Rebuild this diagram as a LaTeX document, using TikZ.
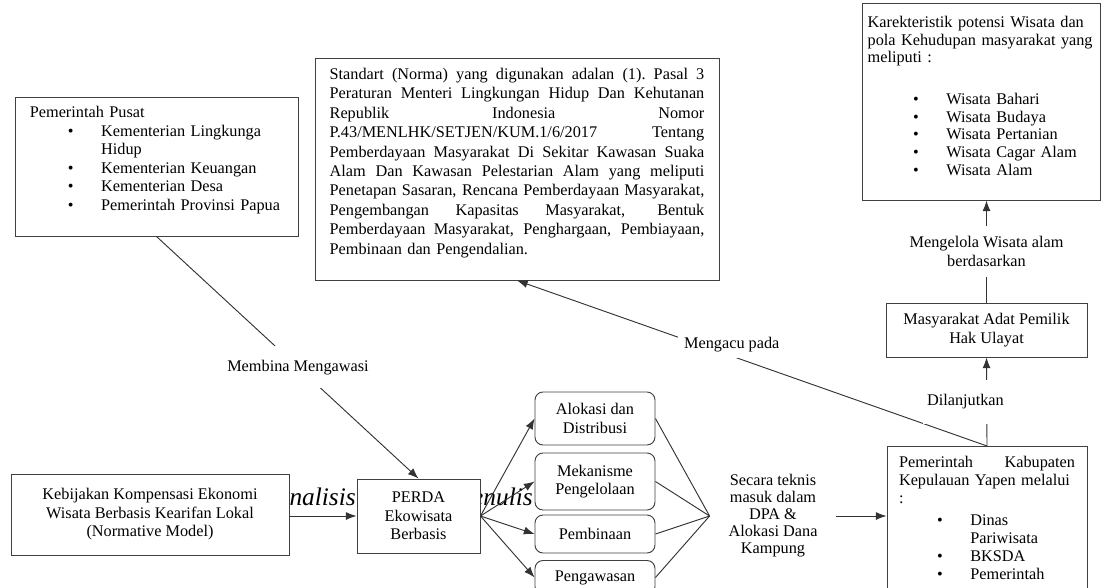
\documentclass[tikz,border=0pt]{standalone}
\usepackage{fontspec}
\setmainfont{Liberation Serif}
\usetikzlibrary{arrows.meta, positioning}

\newcommand{\jl}[1]{{\spaceskip=0.25em plus 1fil\xspaceskip=0.25em plus 1fil\makebox[\hsize][s]{#1}}}
\newcommand{\itm}[2][28.5pt]{\hspace*{#1}\makebox[25pt][l]{\textbullet}#2}
\newcommand{\lowstrut}[1]{\rule[-#1]{0pt}{#1}}

\begin{document}
\begin{tikzpicture}[x=0.75pt, y=-0.75pt, >={Latex[length=8pt,width=6pt]},
    txt/.style={font=\fontsize{12.2}{14}\selectfont},
    box/.style={txt, draw=black!75, line width=0.7pt, fill=white, inner sep=0pt, align=left},
    rbox/.style={box, rounded corners=6pt, minimum width=90pt, align=center},
    itl/.style={font=\fontsize{19}{22}\selectfont\itshape, inner sep=0pt},
    lbl/.style={txt, fill=white, inner sep=3pt},
    conn/.style={draw=black!80, line width=0.7pt}]
    \useasboundingbox (0,0) rectangle (1102,587);
    \clip (0,0) rectangle (1102,587);

    \node[itl, anchor=base east] (anl) at (356,505) {analisis};
    \node[itl, anchor=base east] (nls) at (533,505) {enulis};

    \node[box, text width=190pt, minimum width=212.25pt, minimum height=104.25pt,
          font=\fontsize{12.2}{13.9}\selectfont] (pusat) at (156.5,166.5)
        {Pemerintah Pusat\\
         \itm{Kementerian Lingkunga}\\
         \hspace*{53.5pt}Hidup\\
         \itm{Kementerian Keuangan}\\
         \itm{Kementerian Desa}\\
         \itm{Pemerintah Provinsi Papua}\lowstrut{12.5pt}};

    \node[box, text width=281pt, minimum width=303pt, minimum height=166.5pt,
          font=\fontsize{12.2}{14.55}\selectfont] (std) at (517,169)
        {\jl{Standart (Norma) yang digunakan adalan (1). Pasal 3}\\
         \jl{Peraturan Menteri Lingkungan Hidup Dan Kehutanan}\\
         \jl{Republik Indonesia Nomor}\\
         \jl{P.43/MENLHK/SETJEN/KUM.1/6/2017 Tentang}\\
         \jl{Pemberdayaan Masyarakat Di Sekitar Kawasan Suaka}\\
         \jl{Alam Dan Kawasan Pelestarian Alam yang meliputi}\\
         \jl{Penetapan Sasaran, Rencana Pemberdayaan Masyarakat,}\\
         \jl{Pengembangan Kapasitas Masyarakat, Bentuk}\\
         \jl{Pemberdayaan Masyarakat, Penghargaan, Pembiayaan,}\\
         Pembinaan dan Pengendalian.\lowstrut{11.7pt}};

    \node[box, text width=170pt, minimum width=178.5pt, minimum height=147.75pt,
          font=\fontsize{12.2}{13.3}\selectfont] (kar) at (981,101.5)
        {Karekteristik potensi Wisata dan\\
         pola Kehudupan masyarakat yang\\
         meliputi :\\[18pt]
         \itm[34pt]{Wisata Bahari}\\
         \itm[34pt]{Wisata Budaya}\\
         \itm[34pt]{Wisata Pertanian}\\
         \itm[34pt]{Wisata Cagar Alam}\\
         \itm[34pt]{Wisata Alam}\lowstrut{8.7pt}};

    \node[box, align=center, minimum width=150.75pt, minimum height=40.5pt] (masy) at (986.5,330)
        {Masyarakat Adat Pemilik\\Hak Ulayat};

    \node[box, align=center, minimum width=208.5pt, minimum height=60.75pt,
          font=\fontsize{12.2}{13.9}\selectfont] (keb) at (150,514.5)
        {Kebijakan Kompensasi Ekonomi\\Wisata Berbasis Kearifan Lokal\\(Normative Model)};

    \node[box, align=center, minimum width=92.25pt, minimum height=55.5pt] (perda) at (418.5,516)
        {PERDA\\Ekowisata\\Berbasis};

    \node[rbox, minimum height=39.75pt] (alo) at (595,418.5) {Alokasi dan\\Distribusi};
    \node[rbox, minimum height=42.75pt] (mek) at (595,481.5) {Mekanisme\\Pengelolaan};
    \node[rbox, minimum height=28.5pt] (bin) at (595,534) {Pembinaan};
    \node[rbox, minimum height=25.5pt, anchor=north] (was) at (595,560) {Pengawasan};

    \node[txt, align=center, inner xsep=14pt, font=\fontsize{12.2}{12.75}\selectfont] (dpa) at (773,516)
        {Secara teknis\\masuk dalam\\DPA \&\\Alokasi Dana\\Kampung};

    \node[box, anchor=north, text width=132pt, minimum width=150pt, inner ysep=7pt,
          font=\fontsize{12.2}{13.5}\selectfont] (kab) at (987,446)
        {\jl{Pemerintah Kabupaten}\\
         Kepulauan Yapen melalui\\
         :\\[3pt]
         \itm{Dinas}\\
         \hspace*{53.5pt}Pariwisata\\
         \itm{BKSDA}\\
         \itm{Pemerintah}};

    \draw[conn, ->] (pusat.south) -- node[lbl, pos=0.54, inner ysep=10pt] {Membina Mengawasi} (perda.north);
    \draw[conn, ->] (kab.north) -- node[lbl, pos=0.543, yshift=9pt, inner sep=4.5pt] {Mengacu pada} (std.south);
    \draw[conn, ->] (kab.north) -- node[lbl, xshift=-16pt, inner ysep=11pt] {Dilanjutkan} (masy.south);
    \draw[conn, ->] (masy.north) -- node[lbl, align=center, inner ysep=8pt] {Mengelola Wisata alam\\berdasarkan} (masy.north |- kar.south);
    \draw[conn, ->] (perda.west -| keb.east) -- (perda.west);
    \foreach \b in {alo, mek, bin, was}
        \draw[conn, ->] (perda.east) -- (\b.west);
    \foreach \b in {alo, mek, bin, was}
        \draw[conn] (\b.east) -- (dpa.west);
    \draw[conn, ->] (dpa.east) -- (dpa.east -| kab.west);
\end{tikzpicture}
\end{document}
